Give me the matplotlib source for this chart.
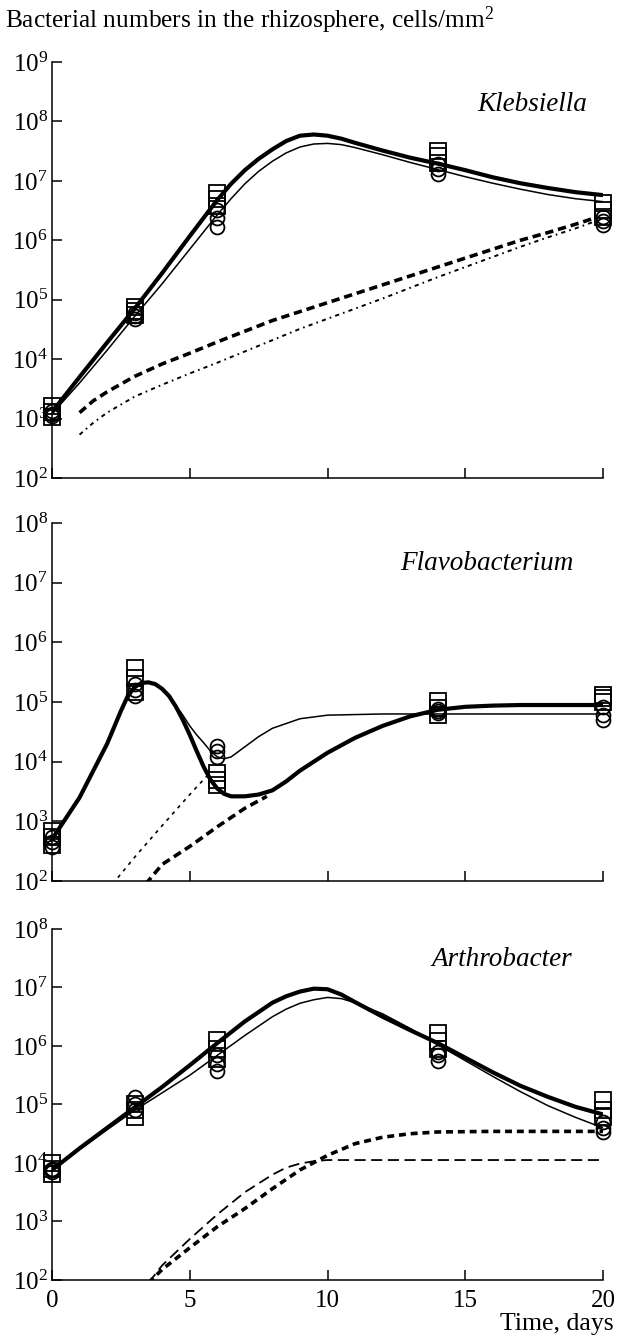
import numpy as np
import matplotlib
matplotlib.use("Agg")
import matplotlib.pyplot as plt

plt.rcParams['font.family'] = 'serif'
plt.rcParams['font.serif'] = ['Liberation Serif', 'DejaVu Serif']
plt.rcParams['mathtext.fontset'] = 'custom'
plt.rcParams['mathtext.rm'] = 'Liberation Serif'
plt.rcParams['mathtext.it'] = 'Liberation Serif:italic'
plt.rcParams['lines.scale_dashes'] = False

# sampling days (measured points)
days_obs = [0, 3, 6, 14, 20]

# --- Klebsiella: replicate measurements (squares / circles)
kleb_sq = [[1.05e3, 1.3e3, 1.65e3], [5.6e4, 6.5e4, 7.4e4], [3.8e6, 5e6, 6.3e6],
           [2e7, 2.6e7, 3.2e7], [2.5e6, 3.2e6, 4.2e6]]
kleb_ci = [[1.1e3, 1.2e3, 1.35e3], [4.8e4, 5.4e4, 6e4], [1.7e6, 2.4e6, 3.2e6],
           [1.3e7, 1.6e7, 1.9e7], [1.8e6, 2.1e6, 2.5e6]]
# model curves (log10 cells/mm2)
kleb_fit_days = [0, 1, 2, 3, 4, 5, 6, 6.5, 7, 7.5, 8, 8.5, 9, 9.5, 10, 10.5, 11, 12, 13, 14, 15, 16, 17, 18, 19, 20]
kleb_fit_a = [3.11, 3.70, 4.28, 4.85, 5.45, 6.07, 6.68, 6.95, 7.18, 7.37, 7.53, 7.67, 7.76, 7.78, 7.76,
              7.71, 7.64, 7.51, 7.39, 7.29, 7.18, 7.06, 6.96, 6.88, 6.81, 6.76]
kleb_fit_b = [3.08, 3.60, 4.15, 4.72, 5.27, 5.85, 6.43, 6.70, 6.95, 7.16, 7.33, 7.47, 7.57, 7.62, 7.63,
              7.61, 7.56, 7.44, 7.31, 7.19, 7.07, 6.96, 6.86, 6.77, 6.70, 6.65]
kleb_ctrl_days = [1, 1.5, 2, 3, 4, 5, 6, 7, 8, 9, 10, 11, 12, 13, 14, 15, 16, 17, 18, 19, 19.6]
kleb_ctrl_a = [3.10, 3.30, 3.45, 3.71, 3.92, 4.10, 4.29, 4.47, 4.65, 4.80, 4.95, 5.10, 5.25, 5.40,
               5.55, 5.70, 5.85, 6.00, 6.13, 6.27, 6.36]
kleb_ctrl_b = [2.73, 2.93, 3.10, 3.37, 3.57, 3.76, 3.94, 4.13, 4.32, 4.51, 4.68, 4.85, 5.02, 5.20,
               5.38, 5.55, 5.72, 5.89, 6.05, 6.20, 6.30]

# --- Flavobacterium
flavo_sq = [[4e2, 5.5e2, 7e2], [1.5e5, 2.5e5, 3.7e5], [4e3, 5e3, 6.5e3],
            [6e4, 8e4, 1.05e5], [1e5, 1.15e5, 1.3e5]]
flavo_ci = [[3.7e2, 4.5e2, 5.5e2], [1.25e5, 1.6e5, 2e5], [1.2e4, 1.5e4, 1.8e4],
            [6.5e4, 7e4, 7.5e4], [5e4, 6e4, 8.3e4]]
flavo_fit_days = [0, 1, 2, 2.5, 2.75, 3, 3.25, 3.5, 3.75, 4, 4.25, 4.5, 4.75, 5, 5.25, 5.5, 5.75,
                  6, 6.25, 6.5, 7, 7.5, 8, 8.5, 9, 10, 11, 12, 13, 14, 15, 16, 17, 18, 20]
flavo_fit_a = [2.70, 3.40, 4.30, 4.85, 5.10, 5.25, 5.32, 5.33, 5.30, 5.22, 5.10, 4.92, 4.70, 4.45,
               4.18, 3.92, 3.70, 3.55, 3.46, 3.42, 3.42, 3.45, 3.52, 3.67, 3.85, 4.15, 4.40, 4.60,
               4.76, 4.87, 4.92, 4.94, 4.95, 4.95, 4.95]
flavo_fit_b_days = [0, 1, 2, 2.5, 2.75, 3, 3.25, 3.5, 3.75, 4, 4.25, 4.5, 4.75, 5, 5.25, 5.5, 5.75,
                    6, 6.25, 6.5, 7, 7.5, 8, 9, 10, 12, 14, 20]
flavo_fit_b = [2.70, 3.40, 4.30, 4.85, 5.10, 5.25, 5.32, 5.33, 5.30, 5.22, 5.10, 4.94, 4.78, 4.60,
               4.45, 4.32, 4.18, 4.08, 4.05, 4.08, 4.25, 4.42, 4.56, 4.72, 4.78, 4.80, 4.80, 4.80]
flavo_ctrl_a_days = [3.4, 4, 5, 6, 7, 7.8]
flavo_ctrl_a = [1.95, 2.28, 2.58, 2.91, 3.22, 3.42]
flavo_ctrl_b_days = [2.2, 3, 4, 5, 5.7]
flavo_ctrl_b = [1.95, 2.40, 2.93, 3.45, 3.80]

# --- Arthrobacter
arthro_sq = [[6.5e3, 8e3, 1e4], [6.2e4, 8e4, 1e5], [6e5, 9e5, 1.26e6],
             [9e5, 1.2e6, 1.66e6], [6e4, 8e4, 1.2e5]]
arthro_ci = [[7e3, 7.5e3, 8e3], [8e4, 1e5, 1.35e5], [3.7e5, 5e5, 7e5],
             [5.5e5, 7e5, 8e5], [3.4e4, 4e4, 5e4]]
arthro_fit_days = [0, 1, 2, 3, 4, 5, 6, 7, 8, 8.5, 9, 9.5, 10, 10.5, 11, 12, 13, 14, 15, 16, 17, 18, 19, 20]
arthro_fit_a = [3.88, 4.25, 4.60, 4.95, 5.30, 5.67, 6.05, 6.42, 6.74, 6.85, 6.93, 6.98, 6.97, 6.88,
                6.75, 6.50, 6.27, 6.05, 5.80, 5.55, 5.32, 5.13, 4.96, 4.83]
arthro_fit_b = [3.88, 4.23, 4.57, 4.90, 5.20, 5.50, 5.84, 6.18, 6.50, 6.63, 6.73, 6.79, 6.83, 6.81,
                6.74, 6.55, 6.30, 6.02, 5.75, 5.48, 5.22, 4.98, 4.78, 4.60]
arthro_ctrl_a_days = [3.5, 4, 5, 6, 7, 8, 9, 10, 11, 12, 13, 14, 16, 20]
arthro_ctrl_a = [1.95, 2.18, 2.55, 2.91, 3.22, 3.56, 3.88, 4.13, 4.33, 4.44, 4.50, 4.53, 4.54, 4.54]
arthro_ctrl_b_days = [3.5, 4, 5, 6, 7, 8, 8.5, 9, 9.5, 10, 20]
arthro_ctrl_b = [1.95, 2.25, 2.70, 3.12, 3.50, 3.80, 3.92, 3.99, 4.03, 4.05, 4.05]


def lg(v):
    return 10 ** np.array(v)


def panel(ax, top_exp, sq, ci, curves, name, name_xy, xlabels=False):
    ax.set_yscale('log')
    ax.set_xlim(0, 20)
    ax.set_ylim(1e2, 10 ** top_exp)
    for d, vals, kw in curves:
        ax.plot(d, lg(vals), color='black', solid_capstyle='butt',
                solid_joinstyle='round', dash_capstyle='butt', **kw)
    for i, d in enumerate(days_obs):
        ax.plot([d] * len(sq[i]), sq[i], 's', ms=12, mfc='none', mec='black',
                mew=1.3, clip_on=False, zorder=5)
        ax.plot([d] * len(ci[i]), ci[i], 'o', ms=10, mfc='none', mec='black',
                mew=1.3, clip_on=False, zorder=5)
    exps = list(range(2, top_exp + 1))
    ax.set_yticks([10 ** e for e in exps])
    ax.set_yticklabels([r'$10^{%d}$' % e for e in exps])
    ax.minorticks_off()
    ax.set_xticks([0, 5, 10, 15, 20])
    if xlabels:
        ax.set_xticklabels(['0', '5', '10', '15', '20'])
    else:
        ax.set_xticklabels([])
    ax.tick_params(axis='both', direction='in', length=7, width=1.1, labelsize=18)
    ax.tick_params(axis='y', pad=3)
    ax.tick_params(axis='x', pad=7)
    for s in ['top', 'right']:
        ax.spines[s].set_visible(False)
    for s in ['left', 'bottom']:
        ax.spines[s].set_linewidth(1.1)
    ax.text(name_xy[0], name_xy[1], name, transform=ax.transAxes, ha='right',
            va='center', fontsize=19.5, style='italic')


fig = plt.figure(figsize=(6.17, 13.39), dpi=100)

thick = dict(lw=3.0)
thin = dict(lw=1.1)

ax1 = fig.add_axes([0.0843, 0.643, 0.893, 0.3107])
panel(ax1, 9, kleb_sq, kleb_ci,
      [(kleb_fit_days, kleb_fit_a, thick),
       (kleb_fit_days, kleb_fit_b, thin),
       (kleb_ctrl_days, kleb_ctrl_a, dict(lw=2.6, dashes=(6, 3.5))),
       (kleb_ctrl_days, kleb_ctrl_b, dict(lw=1.4, dashes=(3, 3, 1.2, 3)))],
      'Klebsiella', (0.972, 0.897))

ax2 = fig.add_axes([0.0843, 0.342, 0.893, 0.2674])
panel(ax2, 8, flavo_sq, flavo_ci,
      [(flavo_fit_days, flavo_fit_a, thick),
       (flavo_fit_b_days, flavo_fit_b, thin),
       (flavo_ctrl_a_days, flavo_ctrl_a, dict(lw=2.6, dashes=(6, 3.5))),
       (flavo_ctrl_b_days, flavo_ctrl_b, dict(lw=1.2, dashes=(2.5, 3.5)))],
      'Flavobacterium', (0.946, 0.888))

ax3 = fig.add_axes([0.0843, 0.0441, 0.893, 0.2621])
panel(ax3, 8, arthro_sq, arthro_ci,
      [(arthro_fit_days, arthro_fit_a, thick),
       (arthro_fit_days, arthro_fit_b, thin),
       (arthro_ctrl_a_days, arthro_ctrl_a, dict(lw=2.6, dashes=(5, 3.5))),
       (arthro_ctrl_b_days, arthro_ctrl_b, dict(lw=1.3, dashes=(8, 4)))],
      'Arthrobacter', (0.944, 0.912), xlabels=True)

fig.text(0.008, 0.997, r'Bacterial numbers in the rhizosphere, cells/mm$^{2}$',
         ha='left', va='top', fontsize=18.3)
fig.text(0.995, 0.003, 'Time, days', ha='right', va='bottom', fontsize=18.5)

fig.savefig('out.png', dpi=100)
